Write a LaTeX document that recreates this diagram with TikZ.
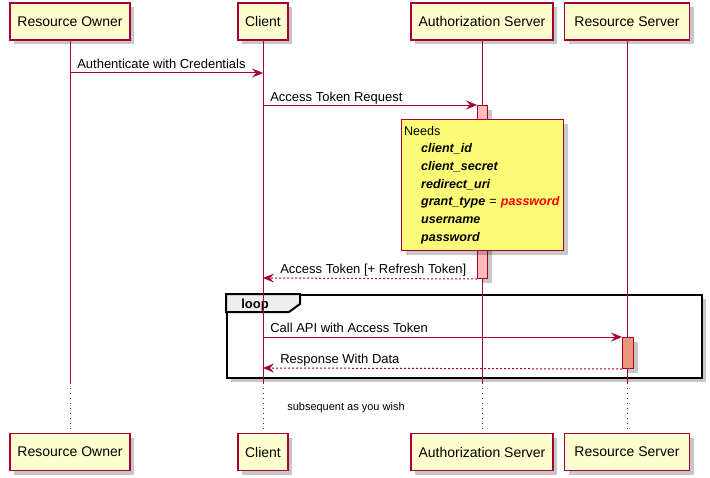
\documentclass[tikz,border=0pt]{standalone}
\usepackage{fontspec}
\setmainfont{Liberation Sans}
\usetikzlibrary{arrows.meta,shadows}
\definecolor{pborder}{HTML}{A80036}
\definecolor{pfill}{HTML}{FEFECE}
\definecolor{notefill}{HTML}{FBFB77}
\definecolor{actone}{HTML}{FFBBBB}
\definecolor{acttwo}{HTML}{E9967A}
\definecolor{tabfill}{HTML}{EEEEEE}
\begin{document}
\begin{tikzpicture}[x=0.75pt,y=-0.75pt,
  shad/.style={drop shadow={shadow xshift=3pt,shadow yshift=-3pt,fill=black,opacity=0.22}},
  part/.style={draw=pborder, fill=pfill, line width=1.1pt, minimum height=27.75pt, inner sep=0pt,
    font=\fontsize{10.5}{12}\selectfont, shad},
  lifeline/.style={draw=pborder, line width=0.75pt},
  delayline/.style={draw=pborder, line width=0.75pt, dash pattern=on 0.75pt off 3pt},
  msg/.style={draw=pborder, line width=0.75pt, -{Stealth[length=8.25pt,width=6.75pt,inset=3pt]}},
  ret/.style={msg, dash pattern=on 1.5pt off 1.5pt},
  lbl/.style={inner sep=0pt, anchor=base west, font=\fontsize{9.75}{12}\selectfont},
  actbox/.style={draw=pborder, line width=0.75pt, anchor=north west, inner sep=0pt, shad},
  note/.style={draw=pborder, fill=notefill, line width=0.75pt, anchor=north west, shad,
    minimum width=121.5pt, minimum height=98.25pt, inner xsep=2pt, inner ysep=0pt,
    text width=117.5pt, align=left, font=\fontsize{9.4}{13.3}\selectfont},
  frame/.style={draw=black, fill=white, line width=1.5pt, anchor=north west, inner sep=0pt, shad}
]
\useasboundingbox (0,0) rectangle (710,478);
% participants
\node[part, minimum width=90pt] (roTop) at (70,21.5) {Resource Owner};
\node[part, minimum width=37.5pt] (clTop) at (263,21.5) {Client};
\node[part, minimum width=106.5pt] (asTop) at (482,21.5) {Authorization Server};
\node[part, minimum width=93.75pt] (rsTop) at (627,21.5) {Resource Server};
\node[part, minimum width=90pt] (roBot) at (70,452) {Resource Owner};
\node[part, minimum width=37.5pt] (clBot) at (263,452) {Client};
\node[part, minimum width=106.5pt] (asBot) at (482,452) {Authorization Server};
\node[part, minimum width=93.75pt] (rsBot) at (627,452) {Resource Server};
% delay points
\coordinate (roD) at (70,383);
\coordinate (clD) at (263,383);
\coordinate (asD) at (482,383);
\coordinate (rsD) at (627,383);
% loop frame
\node[frame, minimum width=356.25pt, minimum height=62.25pt] (loopframe) at (226,294) {};
\draw[line width=1.5pt, fill=tabfill] (226,294) -- (300,294) -- (300,304) -- (289,312) -- (226,312) -- cycle;
\node[inner sep=0pt, anchor=base west, font=\bfseries\fontsize{9.75}{12}\selectfont] (looplbl) at (241,308) {loop};
% lifelines
\draw[lifeline] (roTop.south) -- (roD);
\draw[lifeline] (clTop.south) -- (clD);
\draw[lifeline] (asTop.south) -- (asD);
\draw[lifeline] (rsTop.south) -- (rsD);
\draw[delayline] (roD) -- (roBot.north);
\draw[delayline] (clD) -- (clBot.north);
\draw[delayline] (asD) -- (asBot.north);
\draw[delayline] (rsD) -- (rsBot.north);
% activations
\node[actbox, fill=actone, minimum width=7.5pt, minimum height=129.75pt] (asAct) at (477,105) {};
\node[actbox, fill=acttwo, minimum width=8.25pt, minimum height=23.25pt] (rsAct) at (622,337) {};
% messages
\coordinate (ro1) at (70,73);
\coordinate (cl1) at (263,73);
\draw[msg] (ro1) -- (cl1);
\node[lbl] (l1) at (77,69) {Authenticate with Credentials};
\coordinate (cl2) at (263,105);
\draw[msg] (cl2) -- (asAct.north west);
\node[lbl] (l2) at (270,101) {Access Token Request};
\coordinate (cl3) at (263,278);
\draw[ret] (asAct.south west) -- (cl3);
\node[lbl] (l3) at (280,273) {Access Token [+ Refresh Token]};
\coordinate (cl4) at (263,337);
\draw[msg] (cl4) -- (rsAct.north west);
\node[lbl] (l4) at (270,332) {Call API with Access Token};
\coordinate (cl5) at (263,368);
\draw[ret] (rsAct.south west) -- (cl5);
\node[lbl] (l5) at (280,363) {Response With Data};
% note
\node[note] (needs) at (401,119) {Needs\\
\hspace*{12.75pt}\textbf{\textit{client\_id}}\\
\hspace*{12.75pt}\textbf{\textit{client\_secret}}\\
\hspace*{12.75pt}\textbf{\textit{redirect\_uri}}\\
\hspace*{12.75pt}\mbox{\textbf{\textit{grant\_type}} = \textcolor{red}{\textbf{\textit{password}}}}\\
\hspace*{12.75pt}\textbf{\textit{username}}\\
\hspace*{12.75pt}\textbf{\textit{password}}};
% delay text
\node[inner sep=0pt, anchor=base west, font=\fontsize{8.25}{10}\selectfont] (delay) at (287,410) {subsequent as you wish};
\end{tikzpicture}
\end{document}
